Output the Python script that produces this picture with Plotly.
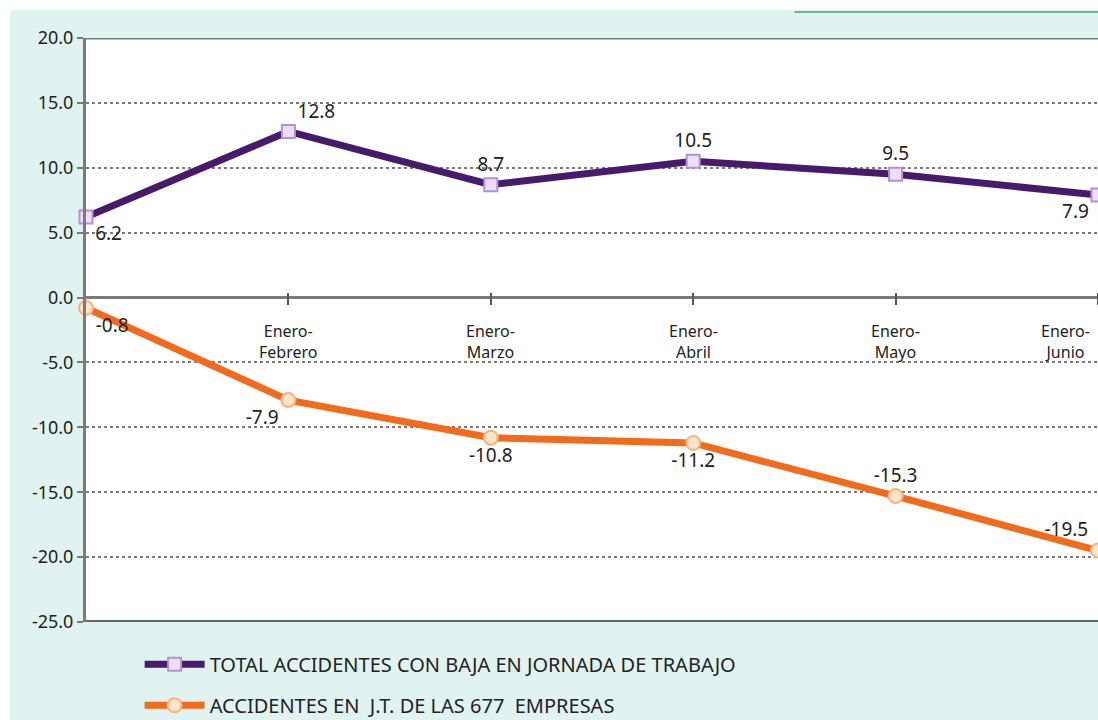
import plotly.graph_objects as go

# datos
periodos = ["Enero", "Enero-Febrero", "Enero-Marzo", "Enero-Abril", "Enero-Mayo", "Enero-Junio"]
etiquetas_x = ["Enero-<br>Febrero", "Enero-<br>Marzo", "Enero-<br>Abril", "Enero-<br>Mayo", "Enero-<br>Junio"]
total_accidentes = [6.2, 12.8, 8.7, 10.5, 9.5, 7.9]
accidentes_677 = [-0.8, -7.9, -10.8, -11.2, -15.3, -19.5]
nombres = ["TOTAL ACCIDENTES CON BAJA EN JORNADA DE TRABAJO",
           "ACCIDENTES EN  J.T. DE LAS 677  EMPRESAS"]
y_ticks = [-25, -20, -15, -10, -5, 0, 5, 10, 15, 20]
y_etiquetas = ["-25.0", "-20.0", "-15.0", "-10.0", "-5.0", "0.0", "5.0", "10.0", "15.0", "20.0"]

FUENTE = "Noto Sans, Open Sans, sans-serif"
MORADO = "#471a6b"
NARANJA = "#f26a1c"
FONDO = "#e1f3f1"
GRIS = "#7a7a7a"

fig = go.Figure()

fig.add_trace(go.Scatter(
    x=periodos, y=total_accidentes, name=nombres[0], legendgroup="a",
    mode="lines+markers+text",
    line=dict(color=MORADO, width=7),
    marker=dict(symbol="square", size=13, color="#ebe0f3", line=dict(color="#b98fd0", width=2)),
    text=[f"{v:.1f}" for v in total_accidentes],
    textposition=["bottom right", "top right", "top center", "top center", "top center", "bottom left"],
    textfont=dict(family=FUENTE, size=19, color="#222"),
    cliponaxis=False,
))

fig.add_trace(go.Scatter(
    x=periodos, y=accidentes_677, name=nombres[1], legendgroup="b",
    mode="lines+markers+text",
    line=dict(color=NARANJA, width=7),
    marker=dict(symbol="circle", size=14, color="#fde4cc", line=dict(color="#f8b27c", width=2)),
    text=[f"{v:.1f}" for v in accidentes_677],
    textposition=["bottom right", "bottom left", "bottom center", "bottom center", "top center", "top left"],
    textfont=dict(family=FUENTE, size=19, color="#222"),
    cliponaxis=False,
))

# etiquetas de categorias bajo la linea de cero
for i, (cat, lab) in enumerate(zip(periodos[1:], etiquetas_x)):
    ultimo = i == len(etiquetas_x) - 1
    fig.add_annotation(
        x=cat, y=-1.6, xref="x", yref="y", text=lab, showarrow=False,
        xanchor="right" if ultimo else "center", yanchor="top",
        xshift=-6 if ultimo else 0,
        font=dict(family=FUENTE, size=16, color="#222"),
    )

# bordes superior e inferior del area
fig.add_shape(type="line", xref="paper", x0=0, x1=1, yref="y", y0=20, y1=20,
              line=dict(color=GRIS, width=3))
fig.add_shape(type="line", xref="paper", x0=0, x1=1, yref="y", y0=-25, y1=-25,
              line=dict(color="#666", width=4))
# bordes blancos del escaneo y linea verde superior
fig.add_shape(type="rect", xref="paper", yref="paper", x0=-0.09, x1=-0.0751, y0=-0.2, y1=1.07,
              fillcolor="white", line_width=0)
fig.add_shape(type="rect", xref="paper", yref="paper", x0=-0.09, x1=1.01, y0=1.048, y1=1.07,
              fillcolor="white", line_width=0)
fig.add_shape(type="line", xref="paper", yref="paper", x0=0.70, x1=1.0, y0=1.0445, y1=1.0445,
              line=dict(color="#74b58e", width=2))

fig.update_layout(
    width=1098, height=720,
    margin=dict(l=86, r=0, t=38, b=98, autoexpand=False),
    paper_bgcolor=FONDO, plot_bgcolor="white",
    font=dict(family=FUENTE, color="#222"),
    showlegend=True,
    legend=dict(x=0.053, y=-0.039, xanchor="left", yanchor="top",
                orientation="v", tracegroupgap=12, itemwidth=60,
                bgcolor="rgba(0,0,0,0)", font=dict(family=FUENTE, size=20, color="#222")),
    xaxis=dict(
        range=[0, 5], type="category", anchor="free",
        position=(0.45 + 25) / 45,
        tickvals=periodos[1:], showticklabels=False,
        ticks="outside", ticklen=12, tickwidth=2, tickcolor="#555",
        showgrid=False, showline=False, zeroline=False,
    ),
    yaxis=dict(
        range=[-25, 20], tickvals=y_ticks, ticktext=y_etiquetas,
        ticks="outside", ticklen=6, tickcolor=GRIS, tickwidth=2,
        showline=True, linecolor=GRIS, linewidth=3,
        showgrid=True, gridcolor="#7a7a7a", griddash="dot", gridwidth=2,
        zeroline=True, zerolinecolor=GRIS, zerolinewidth=3,
        tickfont=dict(family=FUENTE, size=18, color="#222"),
    ),
)

# sin margen en el body para que la figura ocupe toda la ventana
fig.write_html("out.html", config={"displayModeBar": False},
               post_script="document.body.style.margin = '0';")
